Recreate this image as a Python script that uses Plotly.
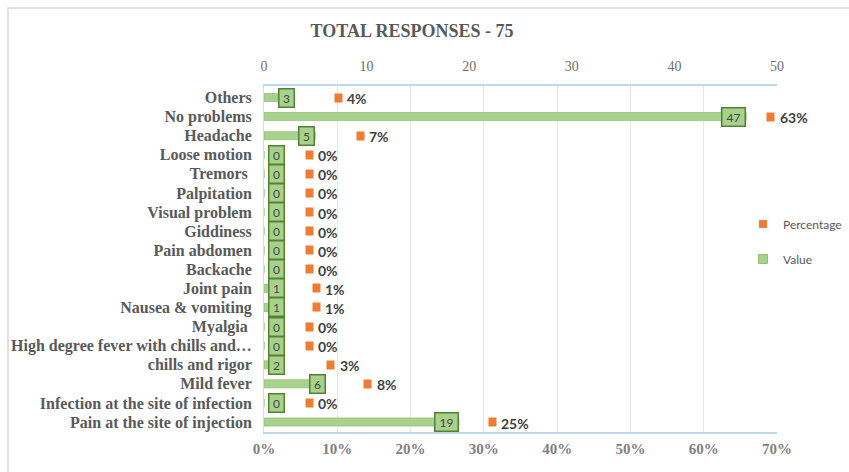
import plotly.graph_objects as go

# ---------------- data ----------------
categories = [
    "Others", "No problems", "Headache", "Loose motion", "Tremors ",
    "Palpitation", "Visual problem", "Giddiness", "Pain abdomen", "Backache",
    "Joint pain", "Nausea & vomiting", "Myalgia ",
    "High degree fever with chills and…", "chills and rigor", "Mild fever",
    "Infection at the site of infection", "Pain at the site of injection",
]
values = [3, 47, 5, 0, 0, 0, 0, 0, 0, 0, 1, 1, 0, 0, 2, 6, 0, 19]
percentages = [0.04, 0.63, 0.07, 0, 0, 0, 0, 0, 0, 0, 0.01, 0.01, 0, 0, 0.03, 0.08, 0, 0.25]
value_ticks = [0, 10, 20, 30, 40, 50]
pct_ticks = [0, 0.1, 0.2, 0.3, 0.4, 0.5, 0.6, 0.7]
title_text = "TOTAL RESPONSES - 75"

# ---------------- style ----------------
W, H = 849, 472
ML, MR, MT, MB = 264, 72, 86, 40
PW, PH = W - ML - MR, H - MT - MB
GREEN = "#A9D18E"
GREEN_EDGE = "#93C273"
GREEN_DARK = "#548235"
ORANGE = "#ED7D31"
SERIF = "Liberation Serif"
SANS = "Lato"

fig = go.Figure()

# legend-only entries
fig.add_trace(go.Scatter(
    x=[None], y=[None], mode="markers", name="Percentage",
    marker=dict(symbol="square", size=8, color=ORANGE),
    xaxis="x", yaxis="y", legendgroup="p", hoverinfo="skip",
))
fig.add_trace(go.Scatter(
    x=[None], y=[None], mode="markers", name="Value",
    marker=dict(symbol="square", size=9, color=GREEN, line=dict(color=GREEN_EDGE, width=1)),
    xaxis="x", yaxis="y", legendgroup="v", hoverinfo="skip",
))

fig.add_trace(go.Bar(
    x=values, y=categories, orientation="h", name="Value",
    xaxis="x2", yaxis="y", width=0.42, showlegend=False,
    marker=dict(color=GREEN, line=dict(color=GREEN_EDGE, width=0.8)),
))

annotations = []
for cat, v, p in zip(categories, values, percentages):
    label = str(v)
    # boxed value labels (inside end, or at base when the bar is too short)
    if v >= 3:
        pos = dict(x=v, xanchor="right", xshift=0)
    else:
        pos = dict(x=0, xanchor="left", xshift=4)
    annotations.append(dict(
        xref="x2", yref="y", y=cat, text=label, showarrow=False,
        font=dict(family=SANS, size=12, color="#3F4A36"),
        bgcolor=GREEN, bordercolor=GREEN_DARK, borderwidth=1.5, borderpad=1,
        height=15, width=8 * len(label) + 4, align="center", **pos,
    ))
    # percentage marker + label
    annotations.append(dict(
        xref="x", yref="y", x=p, y=cat, text="&nbsp;", showarrow=False,
        width=7, height=8, borderpad=0, bgcolor=ORANGE,
        xanchor="center", xshift=45,
    ))
    annotations.append(dict(
        xref="x", yref="y", x=p, y=cat, text=f"<b>{p:.0%}</b>", showarrow=False,
        font=dict(family=SANS, size=14, color="#404040"),
        xanchor="left", xshift=52, yshift=-1,
    ))

fig.update_layout(
    width=W, height=H,
    margin=dict(l=ML, r=MR, t=MT, b=MB, pad=0, autoexpand=False),
    paper_bgcolor="white", plot_bgcolor="white",
    barmode="overlay",
    title=dict(
        text=f"<b>{title_text}</b>", xref="container", yref="container",
        x=412 / W, y=1 - 31 / H, xanchor="center", yanchor="middle",
        font=dict(family=SERIF, size=18, color="#595959"),
    ),
    xaxis=dict(
        range=[0, 0.7], tickvals=pct_ticks,
        ticktext=[f"<b>{t:.0%}</b>" for t in pct_ticks], side="bottom",
        showgrid=True, gridcolor="#E6E6E6", gridwidth=1, zeroline=False,
        showline=True, linecolor="#BDD7EE", linewidth=1.5,
        tickfont=dict(family=SERIF, size=15, color="#808080"),
        ticklabelstandoff=2, fixedrange=True,
    ),
    xaxis2=dict(
        range=[0, 50], tickvals=value_ticks, overlaying="x", side="top",
        showgrid=False, zeroline=False,
        showline=True, linecolor="#BDD7EE", linewidth=1.5,
        tickfont=dict(family=SERIF, size=14, color="#6E6E6E"),
        ticklabelstandoff=8, fixedrange=True,
    ),
    yaxis=dict(
        type="category", categoryorder="array", categoryarray=categories,
        autorange="reversed", showgrid=False, zeroline=False,
        showline=True, linecolor="#D9D9D9", linewidth=1,
        tickfont=dict(family=SERIF, size=16, color="#595959"),
        tickprefix="<b>", ticksuffix="</b>",
        ticklabelstandoff=8, fixedrange=True,
    ),
    legend=dict(
        x=(743 - ML) / PW, y=1 - (241.5 - MT) / PH, xanchor="left", yanchor="middle",
        xref="paper", yref="paper", bgcolor="rgba(0,0,0,0)",
        font=dict(family=SANS, size=12, color="#595959"),
        tracegroupgap=16, traceorder="grouped",
    ),
    showlegend=True,
    annotations=annotations,
    shapes=[dict(
        type="rect", xref="paper", yref="paper", layer="below",
        x0=(8 - ML) / PW, x1=(852 - ML) / PW,
        y0=-(475 - (H - MB)) / PH, y1=1 + (MT - 8) / PH,
        line=dict(color="#D9D9D9", width=1.5),
    )],
)

fig.write_html(
    "out.html",
    config={"displayModeBar": False},
    post_script="document.body.style.margin='0';document.body.style.overflow='hidden';",
)
